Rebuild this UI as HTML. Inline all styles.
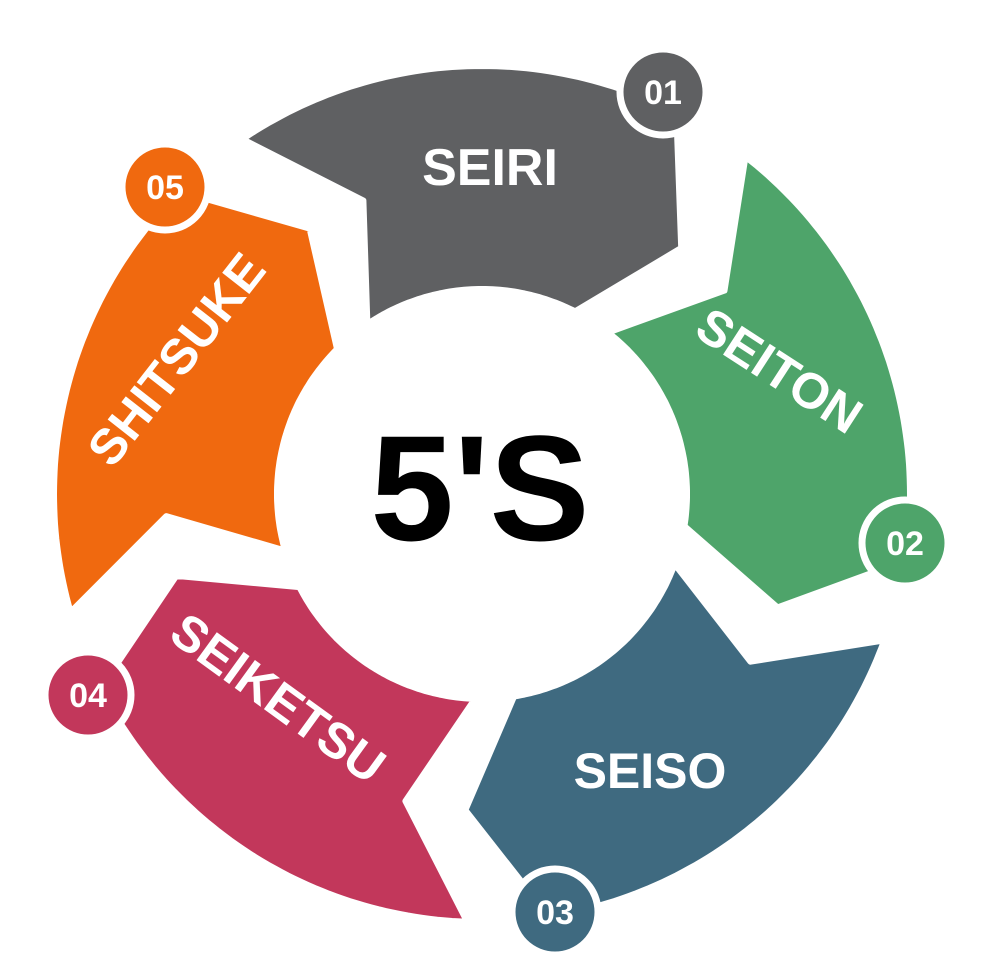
<!DOCTYPE html>
<html><head><meta charset="utf-8"><style>
html,body{margin:0;padding:0;background:#fff;width:1000px;height:967px;overflow:hidden}
svg{display:block}
text{font-family:"Liberation Sans",Arial,sans-serif;font-weight:bold}
</style></head><body>
<svg id="s" width="1000" height="967" viewBox="0 0 1000 967">
<g id="segs"></g>
<text x="480" y="540" font-size="150" text-anchor="middle" fill="#000">5'S</text>
<text x="490" y="185" font-size="52" text-anchor="middle" fill="#fff">SEIRI</text>
<text transform="translate(770,385) rotate(33)" font-size="50" text-anchor="middle" fill="#fff">SEITON</text>
<text x="650" y="788" font-size="50" text-anchor="middle" fill="#fff">SEISO</text>
<text transform="translate(268,712) rotate(36)" font-size="50" text-anchor="middle" fill="#fff">SEIKETSU</text>
<text transform="translate(190,370) rotate(-52)" font-size="50" text-anchor="middle" fill="#fff">SHITSUKE</text>
<g id="nums"></g>
</svg>
<script>
var cx=482,cy=494,Ro=428,Ri=205,Rm=(Ro+Ri)/2;
function P(r,a){a=a*Math.PI/180;return [(cx+r*Math.sin(a)).toFixed(1),(cy-r*Math.cos(a)).toFixed(1)].join(',');}
var segs=[[0,'#5f6062'],[72,'#4ea46a'],[144,'#3f6a80'],[216,'#c2375b'],[288,'#f0690f']];
var g=document.getElementById('segs'),h='';
segs.forEach(function(s){
 var c=s[0],a0=c-34,a1=c+27,pts=[];
 for(var a=a0;a<=a1;a+=1)pts.push(P(Ro,a));
 pts.push(P(Rm,a1+12));
 for(var a=a1;a>=a0;a-=1)pts.push(P(Ri,a));
 pts.push(P(Rm,a0+12));
 h+='<polygon points="'+pts.join(' ')+'" fill="'+s[1]+'" stroke="#fff" stroke-width="6" stroke-linejoin="round"/>';
});
g.innerHTML=h;
var nums=[[663,92,'01','#5f6062'],[905,543,'02','#4ea46a'],[555,912,'03','#3f6a80'],[88,695,'04','#c2375b'],[165,187,'05','#f0690f']];
var n='';
nums.forEach(function(k){
 n+='<circle cx="'+k[0]+'" cy="'+k[1]+'" r="43" fill="'+k[3]+'" stroke="#fff" stroke-width="7"/>';
 n+='<text x="'+k[0]+'" y="'+(k[1]+12)+'" font-size="34" text-anchor="middle" fill="#fff">'+k[2]+'</text>';
});
document.getElementById('nums').innerHTML=n;
</script>
</body></html>
